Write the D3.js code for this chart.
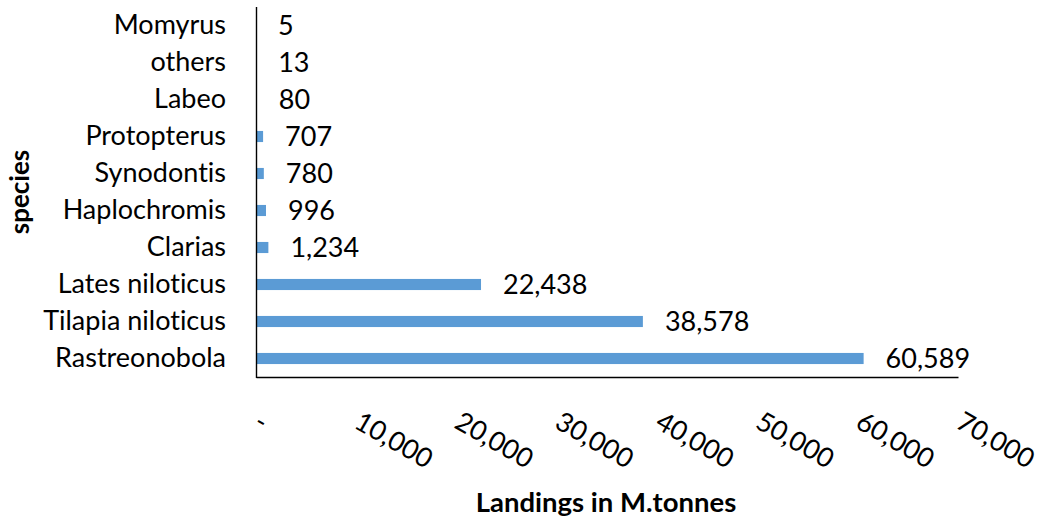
<!DOCTYPE html>
<html>
<head>
<meta charset="utf-8">
<script src="https://cdn.jsdelivr.net/npm/d3@7"></script>
<style>
  html, body { margin: 0; padding: 0; background: #fff; }
  svg { display: block; }
  text { font-family: Lato, "Liberation Sans", sans-serif; fill: #000; font-variant-ligatures: none; }
</style>
</head>
<body>
<svg id="chart" width="1042" height="520"></svg>
<script>
// Fish landings by species (metric tonnes)
const species = ["Momyrus", "others", "Labeo", "Protopterus", "Synodontis",
                 "Haplochromis", "Clarias", "Lates niloticus", "Tilapia niloticus", "Rastreonobola"];
const landings = [5, 13, 80, 707, 780, 996, 1234, 22438, 38578, 60589];
const tickValues = [0, 10000, 20000, 30000, 40000, 50000, 60000, 70000];

const svg = d3.select("#chart");
const plotLeft = 256, plotRight = 958, plotTop = 7, plotBottom = 377;

const x = d3.scaleLinear().domain([0, 70000]).range([plotLeft, plotRight]);
const y = d3.scaleBand().domain(species).range([plotTop, plotBottom])
  .paddingInner(0.7).paddingOuter(0.35);

const fmt = d3.format(",");
const tickFmt = v => v === 0 ? "-" : fmt(v);

// bars
svg.append("g").selectAll("rect")
  .data(species)
  .join("rect")
  .attr("x", x(0))
  .attr("y", d => y(d))
  .attr("width", (d, i) => x(landings[i]) - x(0))
  .attr("height", y.bandwidth())
  .attr("fill", "#5B9BD5");

// value labels
svg.append("g").selectAll("text")
  .data(species)
  .join("text")
  .attr("x", (d, i) => x(landings[i]) + 22)
  .attr("y", d => y(d) + y.bandwidth() / 2)
  .attr("dy", "0.36em")
  .attr("font-size", 27)
  .text((d, i) => fmt(landings[i]));

// category axis
const yAxis = svg.append("g")
  .attr("transform", `translate(${plotLeft},0)`)
  .call(d3.axisLeft(y).tickSize(0).tickPadding(30));
yAxis.select(".domain").attr("stroke", "#000").attr("stroke-width", 1.4)
  .attr("d", `M0.5,${plotTop}V${plotBottom + 1}`);
yAxis.selectAll("text")
  .attr("font-size", 27)
  .attr("font-family", "Lato, 'Liberation Sans', sans-serif")
  .attr("fill", "#000");

// value axis
const xAxis = svg.append("g")
  .attr("transform", `translate(0,${plotBottom})`)
  .call(d3.axisBottom(x).tickValues(tickValues).tickFormat(tickFmt).tickSize(0));
xAxis.select(".domain").attr("stroke", "#000").attr("stroke-width", 1.3);
xAxis.selectAll("text")
  .attr("font-size", 27)
  .attr("font-family", "Lato, 'Liberation Sans', sans-serif")
  .attr("fill", "#000")
  .attr("text-anchor", "start")
  .attr("dy", null)
  .attr("y", 0)
  .attr("transform", "translate(-4,50) rotate(30)");

// axis titles
svg.append("text")
  .attr("x", 606)
  .attr("y", 512)
  .attr("text-anchor", "middle")
  .attr("font-size", 27.5)
  .attr("font-weight", "bold")
  .text("Landings in M.tonnes");

svg.append("text")
  .attr("transform", `translate(29,${(plotTop + plotBottom) / 2}) rotate(-90)`)
  .attr("text-anchor", "middle")
  .attr("font-size", 26)
  .attr("font-weight", "bold")
  .text("species");
</script>
</body>
</html>
